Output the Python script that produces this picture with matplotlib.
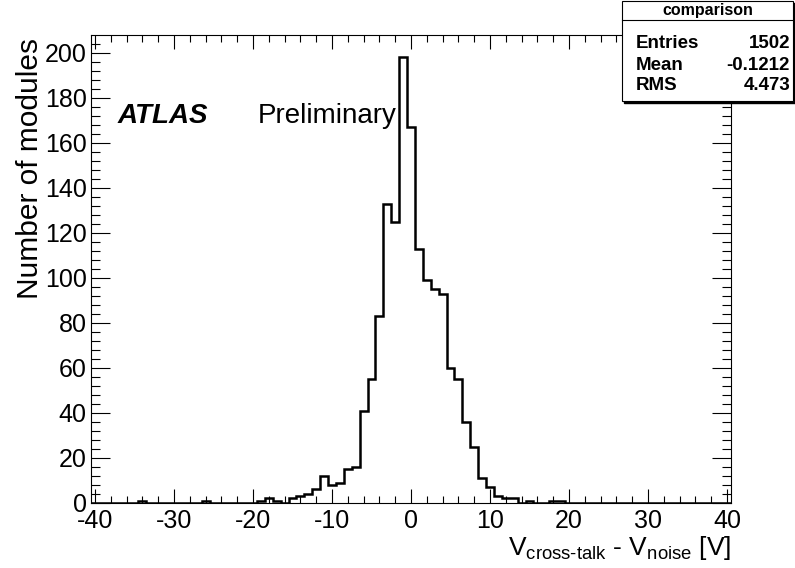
import numpy as np
import matplotlib
matplotlib.use('Agg')
import matplotlib.pyplot as plt
from matplotlib.patches import Rectangle

plt.rcParams['font.family'] = ['Liberation Sans', 'DejaVu Sans']
plt.rcParams['mathtext.fontset'] = 'custom'
plt.rcParams['mathtext.rm'] = 'Liberation Sans'
plt.rcParams['mathtext.it'] = 'Liberation Sans:italic'
plt.rcParams['mathtext.bf'] = 'Liberation Sans:bold'
plt.rcParams['axes.unicode_minus'] = False

#histogram contents (bin width 1 V, centres on integers)
bin_centres = [-34, -26, -19, -18, -17, -15, -14, -13, -12, -11, -10, -9, -8, -7,
               -6, -5, -4, -3, -2, -1, 0, 1, 2, 3, 4, 5, 6, 7, 8, 9, 10,
               11, 12, 13, 15, 18, 19]
counts = [1, 1, 1, 2, 1, 2, 3, 4, 6, 12, 8, 9, 15, 16,
          41, 55, 83, 133, 125, 198, 167, 113, 99, 95, 93, 60, 55, 36, 25, 11, 7,
          3, 2, 2, 1, 1, 1]

#stats box text
stats_title = 'comparison'
stats_names = ['Entries', 'Mean', 'RMS']
stats_values = ['1502', '-0.1212', '4.473']

edges = np.arange(-40.5, 41.0, 1.0)
hist = np.zeros(len(edges) - 1)
for c, n in zip(bin_centres, counts):
    hist[int(c + 40)] = n

W, H = 795, 568
fig = plt.figure(figsize=(W/100, H/100), dpi=100)
ax = fig.add_axes([91/W, 1 - 503/H, (731-91)/W, (503-35)/H])

ax.stairs(hist, edges, color='black', linewidth=1.8)
ax.set_xlim(-40.5, 40.5)
ax.set_ylim(0, 1.05*max(counts))

ax.set_xticks(np.arange(-40, 41, 10))
ax.set_xticks(np.arange(-40, 41, 2), minor=True)
ax.set_yticks(np.arange(0, 201, 20))
ax.set_yticks(np.arange(0, 208, 4), minor=True)
ax.tick_params(which='both', direction='in', top=True, right=True, width=0.8,
               labelsize=18)
ax.tick_params(axis='x', which='major', length=10, pad=4)
ax.tick_params(axis='x', which='minor', length=5)
ax.tick_params(axis='y', which='major', length=13.5, pad=3)
ax.tick_params(axis='y', which='minor', length=6.8)
for s in ax.spines.values():
    s.set_linewidth(0.8)

#axis titles, ROOT style (aligned to the axis end)
fig.text(731/W, 1 - 548/H, r'V$_{\mathrm{cross}\text{-}\mathrm{talk}}$ - V$_{\mathrm{noise}}$ [V]',
         fontsize=19, ha='right', va='center')
fig.text(30/W, 1 - 38/H, 'Number of modules', fontsize=21.5, rotation=90,
         ha='center', va='top')

#ATLAS label
fig.text(118/W, 1 - 116/H, 'ATLAS', fontsize=20, fontweight='bold',
         style='italic', va='center')
fig.text(258/W, 1 - 116/H, 'Preliminary', fontsize=20, va='center')

#stats box
bx0, bx1, by0, by1 = 622, 793, 1, 101
fig.patches.append(Rectangle((bx0/W + 2/W, 1 - (by1+2)/H), (bx1-bx0)/W, (by1-by0)/H,
                             transform=fig.transFigure, facecolor='black',
                             edgecolor='black', zorder=5))
fig.patches.append(Rectangle((bx0/W, 1 - by1/H), (bx1-bx0)/W, (by1-by0)/H,
                             transform=fig.transFigure, facecolor='white',
                             edgecolor='black', linewidth=0.8, zorder=6))
fig.lines.append(plt.Line2D([bx0/W, bx1/W], [1 - 20/H, 1 - 20/H],
                            transform=fig.transFigure, color='black',
                            linewidth=0.8, zorder=7))
fig.text((bx0+bx1)/2/W, 1 - 10.5/H, stats_title, fontsize=11.5,
         fontweight='bold', ha='center', va='center', zorder=8)
row_y = [44, 65, 86]
for name, val, y in zip(stats_names, stats_values, row_y):
    fig.text(636/W, 1 - y/H, name, fontsize=13.5, fontweight='bold',
             ha='left', va='center', zorder=8)
    fig.text(790/W, 1 - y/H, val, fontsize=13.5, fontweight='bold',
             ha='right', va='center', zorder=8)

plt.savefig('out.png', dpi=100)
